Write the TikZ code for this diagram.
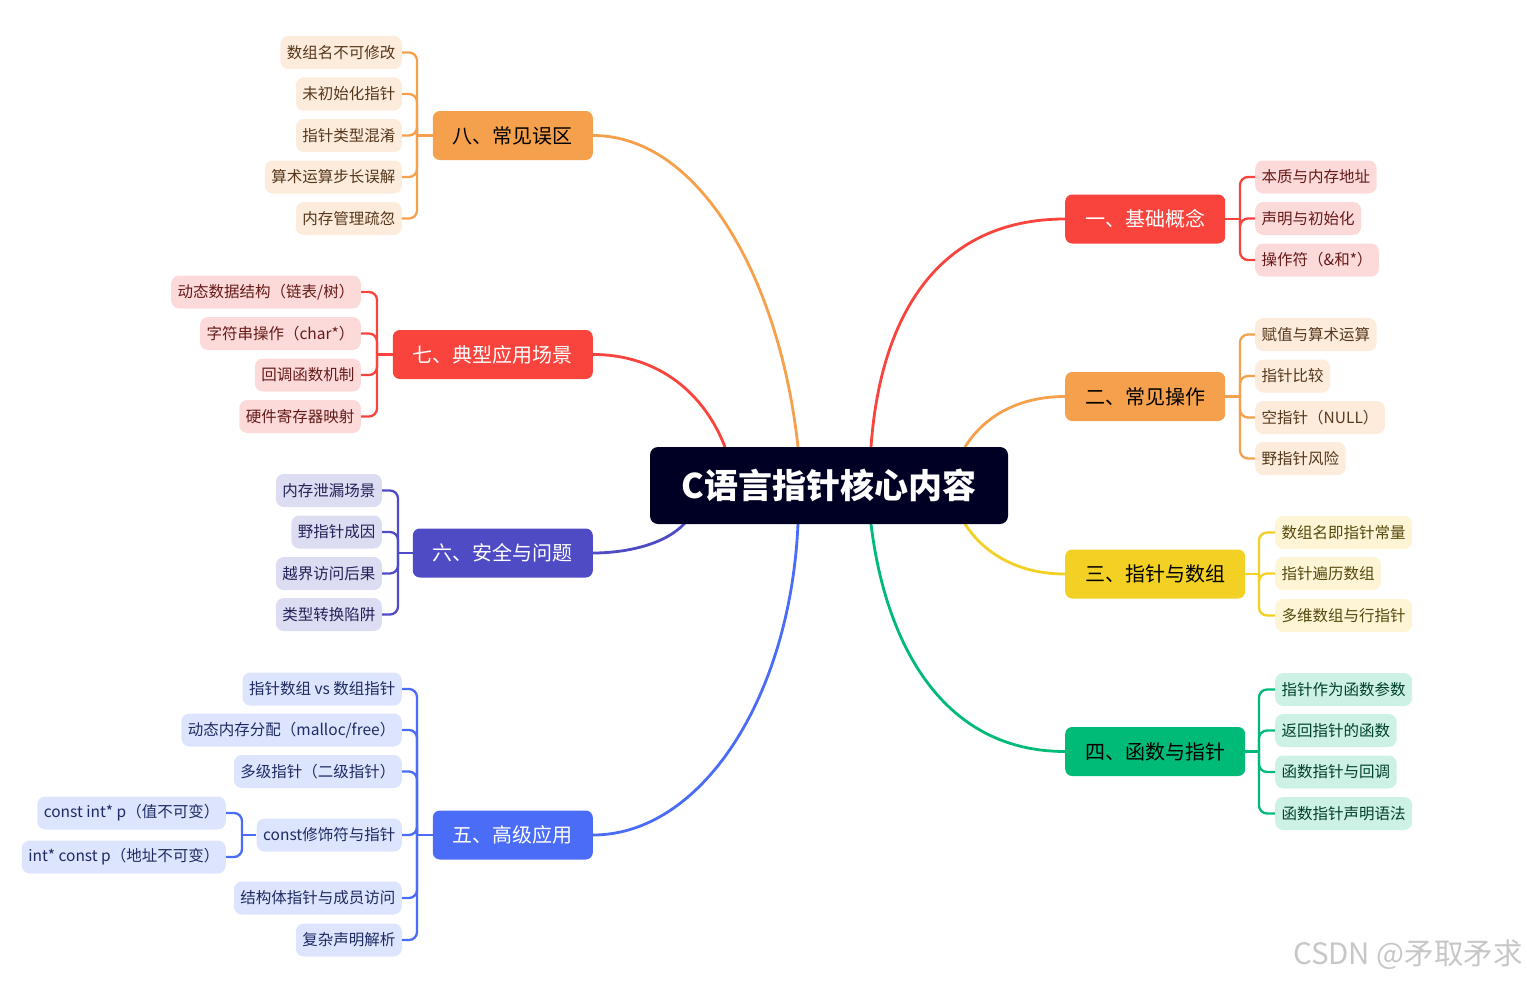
\documentclass[tikz,border=0pt]{standalone}
\usepackage{fontspec}
\setmainfont{Noto Sans CJK SC}
\usetikzlibrary{backgrounds}
\definecolor{cO}{HTML}{F5A04C}
\definecolor{cR}{HTML}{F9443D}
\definecolor{cI}{HTML}{4F4BC4}
\definecolor{cB}{HTML}{4A6CF7}
\definecolor{cY}{HTML}{F2D024}
\definecolor{cG}{HTML}{00BA78}
\definecolor{cRoot}{HTML}{000025}
\definecolor{lO}{HTML}{FDEBDC}
\definecolor{lR}{HTML}{FDDADA}
\definecolor{lI}{HTML}{DCDCF2}
\definecolor{lB}{HTML}{DDE4FD}
\definecolor{lY}{HTML}{FDF5D6}
\definecolor{lG}{HTML}{CDF1E4}
\tikzset{
  leaf/.style={rounded corners=8pt, inner xsep=6.5pt, inner ysep=0pt, minimum height=33pt,
    font=\fontsize{15.5}{17}\selectfont},
  lfO/.style={leaf, fill=lO, text=cO!35!black},
  lfR/.style={leaf, fill=lR, text=cR!40!black},
  lfI/.style={leaf, fill=lI, text=cI!45!black},
  lfB/.style={leaf, fill=lB, text=cB!40!black},
  lfY/.style={leaf, fill=lY, text=cY!35!black},
  lfG/.style={leaf, fill=lG, text=cG!35!black},
  branch/.style={rounded corners=7pt, inner xsep=20pt, inner ysep=0pt, minimum height=49pt,
    font=\fontsize{20}{22}\selectfont},
  link/.style={line width=2.8pt},
  tie/.style={line width=2.3pt, rounded corners=8pt},
}
\begin{document}
\begin{tikzpicture}[x=1pt,y=-1pt]
\useasboundingbox (0,0) rectangle (1527,982);
% root
\node[fill=cRoot, text=white, rounded corners=8pt, minimum width=358pt, minimum height=77pt,
  inner sep=0pt, font=\fontsize{34}{37}\selectfont\bfseries] (root) at (829,485.5) {C语言指针核心内容};
% branches
\node[branch, fill=cO, text=black, anchor=east] (b8) at (593,135.5) {八、常见误区};
\node[branch, fill=cR, text=white, anchor=east] (b7) at (593,354.5) {七、典型应用场景};
\node[branch, fill=cI, text=white, anchor=east] (b6) at (593,553) {六、安全与问题};
\node[branch, fill=cB, text=white, anchor=east] (b5) at (593,835) {五、高级应用};
\node[branch, fill=cR, text=white, anchor=west] (b1) at (1065,219) {一、基础概念};
\node[branch, fill=cO, text=black, anchor=west] (b2) at (1065,396.5) {二、常见操作};
\node[branch, fill=cY, text=black, anchor=west] (b3) at (1065,574) {三、指针与数组};
\node[branch, fill=cG, text=black, anchor=west] (b4) at (1065,751.5) {四、函数与指针};
% group 8
\node[lfO, anchor=east] (l81) at (402,52.5) {数组名不可修改};
\node[lfO, anchor=east] (l82) at (402,94) {未初始化指针};
\node[lfO, anchor=east] (l83) at (402,135.5) {指针类型混淆};
\node[lfO, anchor=east] (l84) at (402,177) {算术运算步长误解};
\node[lfO, anchor=east] (l85) at (402,218.5) {内存管理疏忽};
% group 7
\node[lfR, anchor=east] (l71) at (361,292) {动态数据结构（链表/树）};
\node[lfR, anchor=east] (l72) at (361,333.5) {字符串操作（char*）};
\node[lfR, anchor=east] (l73) at (361,375) {回调函数机制};
\node[lfR, anchor=east] (l74) at (361,416.5) {硬件寄存器映射};
% group 6
\node[lfI, anchor=east] (l61) at (382,490.5) {内存泄漏场景};
\node[lfI, anchor=east] (l62) at (382,532) {野指针成因};
\node[lfI, anchor=east] (l63) at (382,573.5) {越界访问后果};
\node[lfI, anchor=east] (l64) at (382,614.5) {类型转换陷阱};
% group 5
\node[lfB, anchor=east] (l51) at (402,689) {指针数组 vs 数组指针};
\node[lfB, anchor=east] (l52) at (402,730) {动态内存分配（malloc/free）};
\node[lfB, anchor=east] (l53) at (402,771.5) {多级指针（二级指针）};
\node[lfB, anchor=east] (l54) at (402,835) {const修饰符与指针};
\node[lfB, anchor=east] (l55) at (402,898) {结构体指针与成员访问};
\node[lfB, anchor=east] (l56) at (402,940) {复杂声明解析};
\node[lfB, anchor=east] (l541) at (226,813) {const int* p（值不可变）};
\node[lfB, anchor=east] (l542) at (226,857) {int* const p（地址不可变）};
% group 1
\node[lfR, anchor=west] (l11) at (1255,177) {本质与内存地址};
\node[lfR, anchor=west] (l12) at (1255,218.5) {声明与初始化};
\node[lfR, anchor=west] (l13) at (1255,260) {操作符（\&和*）};
% group 2
\node[lfO, anchor=west] (l21) at (1255,334.5) {赋值与算术运算};
\node[lfO, anchor=west] (l22) at (1255,376) {指针比较};
\node[lfO, anchor=west] (l23) at (1255,417.5) {空指针（NULL）};
\node[lfO, anchor=west] (l24) at (1255,458.5) {野指针风险};
% group 3
\node[lfY, anchor=west] (l31) at (1275,532.5) {数组名即指针常量};
\node[lfY, anchor=west] (l32) at (1275,573.5) {指针遍历数组};
\node[lfY, anchor=west] (l33) at (1275,615.5) {多维数组与行指针};
% group 4
\node[lfG, anchor=west] (l41) at (1275,689.5) {指针作为函数参数};
\node[lfG, anchor=west] (l42) at (1275,730.5) {返回指针的函数};
\node[lfG, anchor=west] (l43) at (1275,772) {函数指针与回调};
\node[lfG, anchor=west] (l44) at (1275,813.5) {函数指针声明语法};
% watermark
\node[anchor=east, text=black!22, inner sep=0pt, font=\fontsize{29.5}{31}\selectfont] (wm) at (1523,955) {CSDN @矛取矛求};
% junctions
\coordinate (j8) at (417,135.5);
\coordinate (j7) at (377,354.5);
\coordinate (j6) at (398,553);
\coordinate (j5) at (417,835);
\coordinate (j54) at (242,835);
\coordinate (j1) at (1240,219);
\coordinate (j2) at (1240,396.5);
\coordinate (j3) at (1259,574);
\coordinate (j4) at (1259,751.5);
% root anchor points
\coordinate (r7) at (725,447);
\coordinate (r8) at (798,447);
\coordinate (r1) at (871,447);
\coordinate (r2) at (965,447);
\coordinate (r6) at (685,523);
\coordinate (r5) at (798,524);
\coordinate (r4) at (871,524);
\coordinate (r3) at (965,524);
\begin{pgfonlayer}{background}
\draw[link, cO] (r8) .. controls (780,280) and (700,135.5) .. (b8.east);
\draw[link, cR] (r7) .. controls (705,395) and (660,354.5) .. (b7.east);
\draw[link, cI] (r6) .. controls (665,545) and (625,553) .. (b6.east);
\draw[link, cB] (r5) .. controls (790,700) and (700,835) .. (b5.east);
\draw[link, cR] (r1) .. controls (880,320) and (935,219) .. (b1.west);
\draw[link, cO] (r2) .. controls (985,415) and (1020,396.5) .. (b2.west);
\draw[link, cY] (r3) .. controls (985,555) and (1020,574) .. (b3.west);
\draw[link, cG] (r4) .. controls (885,640) and (940,751.5) .. (b4.west);
\end{pgfonlayer}
% ties
\draw[tie, cO] (b8.west) -- (j8);
\foreach \n in {l81,l82,l83,l84,l85} \draw[tie, cO] (j8) |- (\n.east);
\draw[tie, cR] (b7.west) -- (j7);
\foreach \n in {l71,l72,l73,l74} \draw[tie, cR] (j7) |- (\n.east);
\draw[tie, cI] (b6.west) -- (j6);
\foreach \n in {l61,l62,l63,l64} \draw[tie, cI] (j6) |- (\n.east);
\draw[tie, cB] (b5.west) -- (j5);
\foreach \n in {l51,l52,l53,l54,l55,l56} \draw[tie, cB] (j5) |- (\n.east);
\draw[tie, cB] (l54.west) -- (j54);
\foreach \n in {l541,l542} \draw[tie, cB] (j54) |- (\n.east);
\draw[tie, cR] (b1.east) -- (j1);
\foreach \n in {l11,l12,l13} \draw[tie, cR] (j1) |- (\n.west);
\draw[tie, cO] (b2.east) -- (j2);
\foreach \n in {l21,l22,l23,l24} \draw[tie, cO] (j2) |- (\n.west);
\draw[tie, cY] (b3.east) -- (j3);
\foreach \n in {l31,l32,l33} \draw[tie, cY] (j3) |- (\n.west);
\draw[tie, cG] (b4.east) -- (j4);
\foreach \n in {l41,l42,l43,l44} \draw[tie, cG] (j4) |- (\n.west);
\end{tikzpicture}
\end{document}
